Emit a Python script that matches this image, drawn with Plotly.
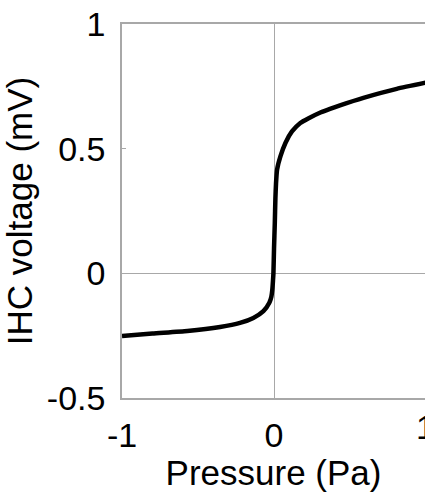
import plotly.graph_objects as go

# Data
pressure_pa = [-1.0, -0.8, -0.57, -0.355, -0.224, -0.136, -0.07, -0.031, -0.018, -0.011,
               -0.007, -0.004, 0.0, 0.005, 0.009, 0.013, 0.02, 0.042, 0.075, 0.118,
               0.173, 0.228, 0.305, 0.368, 0.434, 0.588, 0.807, 1.0]
ihc_voltage_mv = [-0.251, -0.241, -0.231, -0.215, -0.199, -0.179, -0.152, -0.118, -0.095, -0.064,
                  -0.03, 0.0, 0.1, 0.2, 0.3, 0.36, 0.416, 0.469, 0.523, 0.569,
                  0.603, 0.622, 0.645, 0.66, 0.674, 0.704, 0.740, 0.765]

x_ticks = [-1, 0]
x_tick_text = ["-1", "0"]
x_edge_label = "1"
y_ticks = [-0.5, 0, 0.5, 1]
y_tick_text = ["-0.5", "0", "0.5", "1"]

FONT = "Liberation Sans, Arial, sans-serif"
AXIS_COLOR = "#a8a8a8"
TICK_SIZE = 34
TITLE_SIZE = 35

fig = go.Figure()
fig.add_trace(go.Scatter(
    x=pressure_pa, y=ihc_voltage_mv, mode="lines",
    line=dict(color="black", width=4.5, shape="spline", smoothing=0.5),
    showlegend=False, hoverinfo="skip",
))

fig.update_layout(
    width=425, height=492,
    margin=dict(l=122, r=0, t=24, b=94, autoexpand=False),
    paper_bgcolor="white", plot_bgcolor="white",
    font=dict(family=FONT, size=TICK_SIZE, color="black"),
    xaxis=dict(
        range=[-1, 0.993], tickvals=x_ticks, ticktext=x_tick_text,
        showgrid=False, zeroline=True, zerolinecolor=AXIS_COLOR, zerolinewidth=1,
        showline=True, linecolor=AXIS_COLOR, linewidth=1.5, mirror=True,
        ticks="inside", ticklen=4, tickcolor=AXIS_COLOR,
        tickfont=dict(size=TICK_SIZE), automargin=False,
        title=dict(text="Pressure (Pa)", standoff=17, font=dict(size=TITLE_SIZE)),
        ticklabelstandoff=6,
    ),
    yaxis=dict(
        range=[-0.5, 1], tickvals=y_ticks, ticktext=y_tick_text,
        showgrid=False, zeroline=True, zerolinecolor=AXIS_COLOR, zerolinewidth=1,
        showline=True, linecolor=AXIS_COLOR, linewidth=1.5, mirror=False,
        ticks="inside", ticklen=4, tickcolor=AXIS_COLOR,
        tickfont=dict(size=TICK_SIZE), automargin=False,
        title=dict(text="IHC voltage (mV)", standoff=6, font=dict(size=TITLE_SIZE)),
        ticklabelstandoff=8,
    ),
)

# tick label for x = 1, which sits at the (clipped) right edge of the figure
fig.add_annotation(x=1.0033, xref="paper", y=0, yref="paper", text=x_edge_label,
                   showarrow=False, xanchor="center", yanchor="top", yshift=-8,
                   font=dict(family=FONT, size=TICK_SIZE, color="black"))

fig.write_html("out.html")
